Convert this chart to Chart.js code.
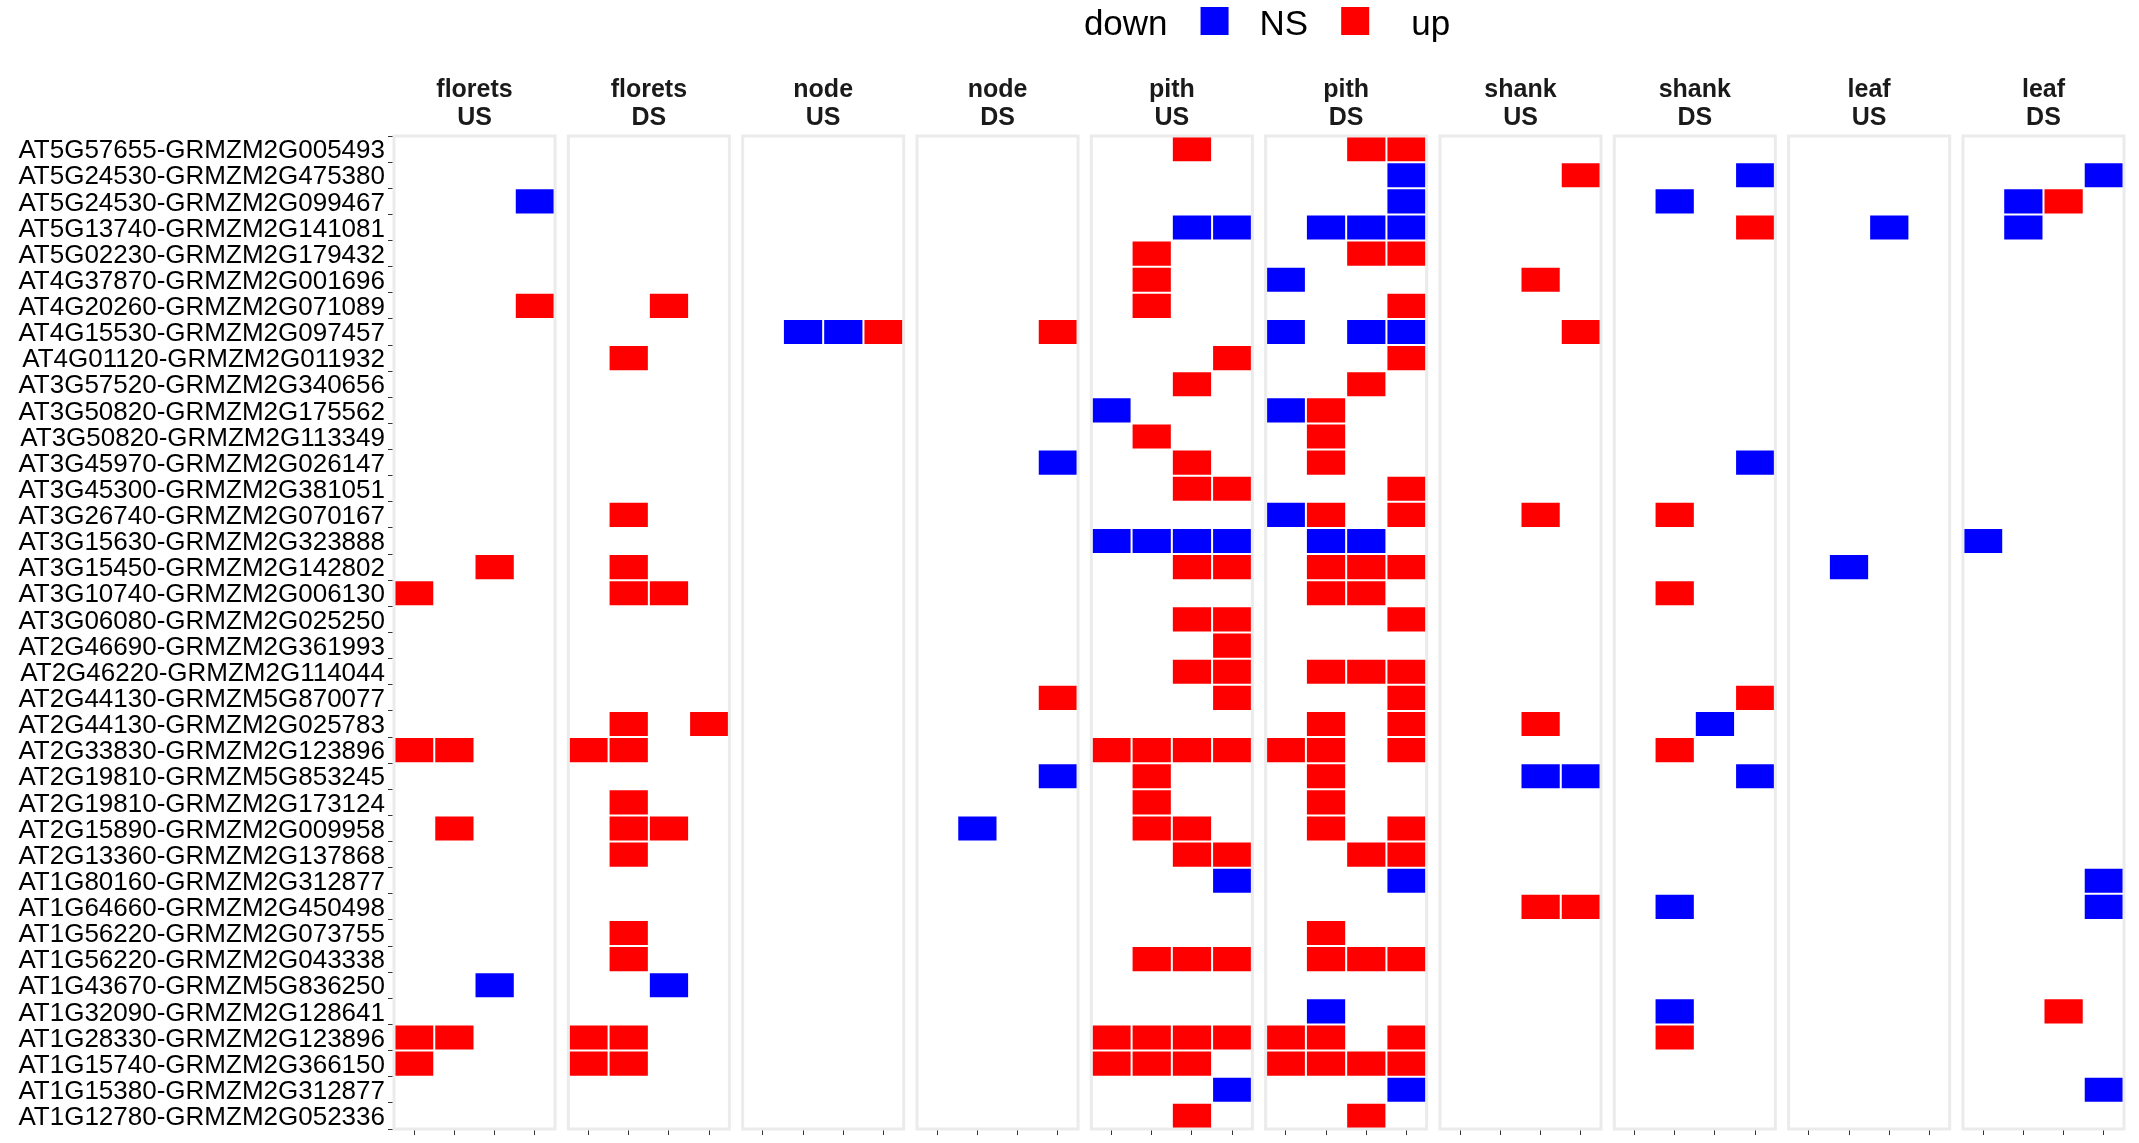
<!DOCTYPE html>
<html>
<head>
<meta charset="utf-8">
<title>Gene pair regulation by tissue</title>
<script src="https://cdn.jsdelivr.net/npm/chart.js@4.4.1/dist/chart.umd.min.js"></script>
<style>
  html, body { margin: 0; padding: 0; background: #ffffff; }
  #wrap { width: 2139px; height: 1143px; }
</style>
</head>
<body>
<div id="wrap"><canvas id="chart" width="2139" height="1143"></canvas></div>
<script>
// Row labels: Arabidopsis gene - maize gene pairs, top to bottom
const genes = [
  'AT5G57655-GRMZM2G005493', 'AT5G24530-GRMZM2G475380', 'AT5G24530-GRMZM2G099467',
  'AT5G13740-GRMZM2G141081', 'AT5G02230-GRMZM2G179432', 'AT4G37870-GRMZM2G001696',
  'AT4G20260-GRMZM2G071089', 'AT4G15530-GRMZM2G097457', 'AT4G01120-GRMZM2G011932',
  'AT3G57520-GRMZM2G340656', 'AT3G50820-GRMZM2G175562', 'AT3G50820-GRMZM2G113349',
  'AT3G45970-GRMZM2G026147', 'AT3G45300-GRMZM2G381051', 'AT3G26740-GRMZM2G070167',
  'AT3G15630-GRMZM2G323888', 'AT3G15450-GRMZM2G142802', 'AT3G10740-GRMZM2G006130',
  'AT3G06080-GRMZM2G025250', 'AT2G46690-GRMZM2G361993', 'AT2G46220-GRMZM2G114044',
  'AT2G44130-GRMZM5G870077', 'AT2G44130-GRMZM2G025783', 'AT2G33830-GRMZM2G123896',
  'AT2G19810-GRMZM5G853245', 'AT2G19810-GRMZM2G173124', 'AT2G15890-GRMZM2G009958',
  'AT2G13360-GRMZM2G137868', 'AT1G80160-GRMZM2G312877', 'AT1G64660-GRMZM2G450498',
  'AT1G56220-GRMZM2G073755', 'AT1G56220-GRMZM2G043338', 'AT1G43670-GRMZM5G836250',
  'AT1G32090-GRMZM2G128641', 'AT1G28330-GRMZM2G123896', 'AT1G15740-GRMZM2G366150',
  'AT1G15380-GRMZM2G312877', 'AT1G12780-GRMZM2G052336'
];

// Facet strips: tissue on the first line, position on the second
const tissues = ['florets', 'florets', 'node', 'node', 'pith', 'pith', 'shank', 'shank', 'leaf', 'leaf'];
const sides   = ['US', 'DS', 'US', 'DS', 'US', 'DS', 'US', 'DS', 'US', 'DS'];

// Legend entries and their colours
const legendLabels = ['down', 'NS', 'up'];
const legendKeys   = ['#0000FF', '#FF0000'];
const statusColors = { D: '#0000FF', U: '#FF0000' };

// One code per gene pair, one character per column: D = down, U = up, . = NS
const floretsUS = [
  '....', '....', '...D', '....', '....', '....', '...U', '....', '....', '....',
  '....', '....', '....', '....', '....', '....', '..U.', 'U...', '....', '....',
  '....', '....', '....', 'UU..', '....', '....', '.U..', '....', '....', '....',
  '....', '....', '..D.', '....', 'UU..', 'U...', '....', '....'
];
const floretsDS = [
  '....', '....', '....', '....', '....', '....', '..U.', '....', '.U..', '....',
  '....', '....', '....', '....', '.U..', '....', '.U..', '.UU.', '....', '....',
  '....', '....', '.U.U', 'UU..', '....', '.U..', '.UU.', '.U..', '....', '....',
  '.U..', '.U..', '..D.', '....', 'UU..', 'UU..', '....', '....'
];
const nodeUS = [
  '....', '....', '....', '....', '....', '....', '....', '.DDU', '....', '....',
  '....', '....', '....', '....', '....', '....', '....', '....', '....', '....',
  '....', '....', '....', '....', '....', '....', '....', '....', '....', '....',
  '....', '....', '....', '....', '....', '....', '....', '....'
];
const nodeDS = [
  '....', '....', '....', '....', '....', '....', '....', '...U', '....', '....',
  '....', '....', '...D', '....', '....', '....', '....', '....', '....', '....',
  '....', '...U', '....', '....', '...D', '....', '.D..', '....', '....', '....',
  '....', '....', '....', '....', '....', '....', '....', '....'
];
const pithUS = [
  '..U.', '....', '....', '..DD', '.U..', '.U..', '.U..', '....', '...U', '..U.',
  'D...', '.U..', '..U.', '..UU', '....', 'DDDD', '..UU', '....', '..UU', '...U',
  '..UU', '...U', '....', 'UUUU', '.U..', '.U..', '.UU.', '..UU', '...D', '....',
  '....', '.UUU', '....', '....', 'UUUU', 'UUU.', '...D', '..U.'
];
const pithDS = [
  '..UU', '...D', '...D', '.DDD', '..UU', 'D...', '...U', 'D.DD', '...U', '..U.',
  'DU..', '.U..', '.U..', '...U', 'DU.U', '.DD.', '.UUU', '.UU.', '...U', '....',
  '.UUU', '...U', '.U.U', 'UU.U', '.U..', '.U..', '.U.U', '..UU', '...D', '....',
  '.U..', '.UUU', '....', '.D..', 'UU.U', 'UUUU', '...D', '..U.'
];
const shankUS = [
  '....', '...U', '....', '....', '....', '..U.', '....', '...U', '....', '....',
  '....', '....', '....', '....', '..U.', '....', '....', '....', '....', '....',
  '....', '....', '..U.', '....', '..DD', '....', '....', '....', '....', '..UU',
  '....', '....', '....', '....', '....', '....', '....', '....'
];
const shankDS = [
  '....', '...D', '.D..', '...U', '....', '....', '....', '....', '....', '....',
  '....', '....', '...D', '....', '.U..', '....', '....', '.U..', '....', '....',
  '....', '...U', '..D.', '.U..', '...D', '....', '....', '....', '....', '.D..',
  '....', '....', '....', '.D..', '.U..', '....', '....', '....'
];
const leafUS = [
  '....', '....', '....', '..D.', '....', '....', '....', '....', '....', '....',
  '....', '....', '....', '....', '....', '....', '.D..', '....', '....', '....',
  '....', '....', '....', '....', '....', '....', '....', '....', '....', '....',
  '....', '....', '....', '....', '....', '....', '....', '....'
];
const leafDS = [
  '....', '...D', '.DU.', '.D..', '....', '....', '....', '....', '....', '....',
  '....', '....', '....', '....', '....', 'D...', '....', '....', '....', '....',
  '....', '....', '....', '....', '....', '....', '....', '....', '...D', '...D',
  '....', '....', '....', '..U.', '....', '....', '...D', '....'
];

const panels = [floretsUS, floretsDS, nodeUS, nodeDS, pithUS, pithDS, shankUS, shankDS, leafUS, leafDS];

// Panel geometry on the shared x scale: 4 unit-wide columns per panel plus a gap
const NCOL = 4;
const STEP = 4.33;
const FONT = '"Liberation Sans", Arial, Helvetica, sans-serif';

// Each significant cell becomes a floating horizontal bar spanning its column
const cells = [];
panels.forEach((codes, p) => {
  codes.forEach((code, r) => {
    Array.from(code).forEach((ch, c) => {
      if (ch === '.') return;
      const x0 = p * STEP + c;
      cells.push({ y: genes[r], x: [x0, x0 + 1], status: ch });
    });
  });
});

const colCenters = [];
panels.forEach((_, p) => {
  for (let c = 0; c < NCOL; c++) colCenters.push(p * STEP + c + 0.5);
});

// Panel frames and strip titles
const facetPlugin = {
  id: 'facetPlugin',
  afterDatasetsDraw(chart) {
    const { ctx, chartArea: a, scales: { x } } = chart;
    ctx.save();
    ctx.strokeStyle = '#EBEBEB';
    ctx.lineWidth = 3;
    panels.forEach((_, p) => {
      const l = x.getPixelForValue(p * STEP);
      const r = x.getPixelForValue(p * STEP + NCOL);
      ctx.strokeRect(l, a.top, r - l, a.bottom - a.top);
    });
    ctx.fillStyle = '#1A1A1A';
    ctx.font = 'bold 25px ' + FONT;
    ctx.textAlign = 'center';
    ctx.textBaseline = 'alphabetic';
    panels.forEach((_, p) => {
      const cx = x.getPixelForValue(p * STEP + NCOL / 2);
      ctx.fillText(tissues[p], cx, a.top - 39);
      ctx.fillText(sides[p], cx, a.top - 11);
    });
    ctx.restore();
  }
};

// Legend row above the panels: label, key, label, key, label
const legendPlugin = {
  id: 'legendRow',
  afterDraw(chart) {
    const { ctx, chartArea: a } = chart;
    const key = 28, gapAfterText = 33, gapAfterKey = [31, 42];
    ctx.save();
    ctx.font = '35px ' + FONT;
    ctx.textBaseline = 'alphabetic';
    ctx.textAlign = 'left';
    const widths = legendLabels.map(t => ctx.measureText(t).width);
    let total = widths.reduce((s, w) => s + w, 0);
    legendKeys.forEach((_, i) => { total += gapAfterText + key + gapAfterKey[i]; });
    let xPos = (a.left + a.right) / 2 + 8 - total / 2;
    const baseline = 35, keyTop = 7;
    legendLabels.forEach((t, i) => {
      ctx.fillStyle = '#000000';
      ctx.fillText(t, xPos, baseline);
      xPos += widths[i];
      if (i < legendKeys.length) {
        xPos += gapAfterText;
        ctx.fillStyle = legendKeys[i];
        ctx.fillRect(xPos, keyTop, key, key);
        xPos += key + gapAfterKey[i];
      }
    });
    ctx.restore();
  }
};

new Chart(document.getElementById('chart'), {
  type: 'bar',
  data: {
    labels: genes,
    datasets: [{
      data: cells,
      backgroundColor: ctx => (ctx.raw && statusColors[ctx.raw.status]) || '#FFFFFF',
      borderColor: '#FFFFFF',
      borderWidth: 1,
      borderSkipped: false,
      inflateAmount: 0,
      categoryPercentage: 1,
      barPercentage: 1,
      grouped: false
    }]
  },
  options: {
    indexAxis: 'y',
    responsive: false,
    animation: false,
    devicePixelRatio: 1,
    layout: { padding: { top: 136, right: 15, bottom: 6, left: 0 } },
    plugins: {
      legend: { display: false },
      tooltip: { enabled: false }
    },
    scales: {
      x: {
        type: 'linear',
        min: 0,
        max: (panels.length - 1) * STEP + NCOL,
        grid: { drawOnChartArea: false, drawTicks: true, tickLength: 6, tickColor: '#333333', tickWidth: 1 },
        border: { display: false },
        ticks: { display: false },
        afterBuildTicks(s) { s.ticks = colCenters.map(v => ({ value: v })); },
        afterFit(s) { s.height = 8; }
      },
      y: {
        type: 'category',
        offset: true,
        grid: { drawOnChartArea: false, drawTicks: true, tickLength: 6, tickColor: '#333333', tickWidth: 1 },
        border: { display: false },
        ticks: {
          autoSkip: false,
          color: '#000000',
          padding: 3,
          labelOffset: 2,
          font: { family: FONT, size: 26 }
        },
        afterFit(s) {
          s.width = 394;
          s.paddingTop = 0;
          s.paddingBottom = 0;
        }
      }
    }
  },
  plugins: [facetPlugin, legendPlugin]
});
</script>
</body>
</html>
